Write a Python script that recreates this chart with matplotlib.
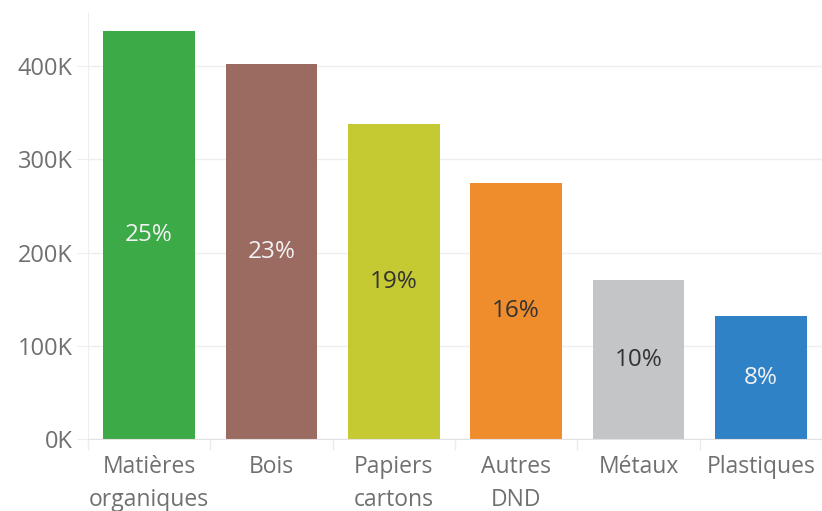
import matplotlib
matplotlib.use("Agg")
import matplotlib.pyplot as plt
import numpy as np
from matplotlib.ticker import FuncFormatter, FixedLocator

plt.rcParams['font.family'] = ['Open Sans', 'DejaVu Sans']

categories = ["Matières\norganiques", "Bois", "Papiers\ncartons", "Autres\nDND", "Métaux", "Plastiques"]
values = [437000, 402000, 338000, 275000, 171000, 132000]
percent_labels = ["25%", "23%", "19%", "16%", "10%", "8%"]
colors = ["#3BAA47", "#9B6A61", "#C5C932", "#EF8C2B", "#C4C5C7", "#2F82C6"]
label_colors = ["#F2F2F2", "#F2F2F2", "#333333", "#333333", "#333333", "#F2F2F2"]
yticks = [0, 100000, 200000, 300000, 400000]

fig = plt.figure(figsize=(8.22, 5.11), dpi=100)
ax = fig.add_axes([0.107, 0.140, 0.893, 0.835])

x = np.arange(len(categories))
bars = ax.bar(x, values, width=0.75, color=colors, zorder=2)

for b, lab, c in zip(bars, percent_labels, label_colors):
    ax.text(b.get_x() + b.get_width() / 2, b.get_height() / 2, lab,
            ha="center", va="center", fontsize=17.5, color=c, zorder=3)

ax.set_xlim(-0.5, len(categories) - 0.5)
ax.set_ylim(0, 457000)
ax.set_yticks(yticks)
ax.yaxis.set_major_formatter(FuncFormatter(lambda v, p: f"{int(v/1000)}K"))
ax.set_xticks(x)
ax.set_xticklabels(categories, fontsize=16.5, color="#707070", linespacing=1.5)
ax.xaxis.set_minor_locator(FixedLocator(np.arange(-0.5, len(categories), 1.0)))
ax.tick_params(axis="x", which="major", length=0, pad=11)
ax.tick_params(axis="x", which="minor", length=8, color="#ECECEC", width=1)
ax.tick_params(axis="y", which="major", length=8, color="#EEEEEE", labelsize=17,
               labelcolor="#707070", pad=3)

ax.yaxis.grid(True, color="#EEEEEE", linewidth=1, zorder=0)
ax.set_axisbelow(True)
for s in ["top", "right"]:
    ax.spines[s].set_visible(False)
ax.spines["left"].set_color("#EEEEEE")
ax.spines["bottom"].set_color("#E2E2E2")

fig.savefig("out.png", dpi=100, facecolor="white")
